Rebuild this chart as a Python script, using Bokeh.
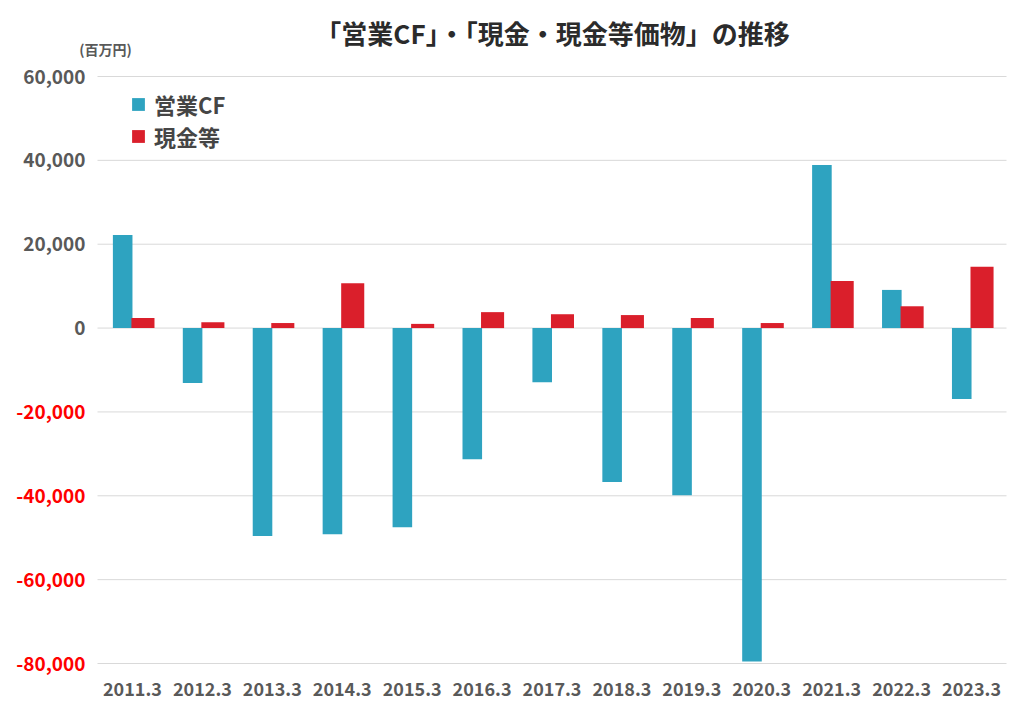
from bokeh.plotting import figure
from bokeh.models import ColumnDataSource, Legend, LegendItem, Range1d
from bokeh.core.properties import value
from bokeh.transform import dodge
from bokeh.embed import file_html
from bokeh.resources import INLINE

years = ["2011.3", "2012.3", "2013.3", "2014.3", "2015.3", "2016.3", "2017.3",
         "2018.3", "2019.3", "2020.3", "2021.3", "2022.3", "2023.3"]
operating_cf = [22200, -13100, -49600, -49200, -47500, -31300, -12900,
                -36700, -39900, -79500, 38900, 9100, -16900]
cash_eq = [2400, 1400, 1200, 10700, 1000, 3800, 3300,
           3100, 2400, 1200, 11200, 5200, 14600]
y_ticks = [-80000, -60000, -40000, -20000, 0, 20000, 40000, 60000]

FONT = "Noto Sans CJK JP"
GRAY = "#595959"
W, H = 1024, 709

# plot area in pixels: left 97, right 1006, top 76 (60,000), bottom 663 (-80,000)
n = len(years)
px_per_x = (1006 - 97) / n
px_per_y = (663 - 76) / (y_ticks[-1] - y_ticks[0])
x0 = -0.5 - 97 / px_per_x
x1 = x0 + W / px_per_x
ytop = y_ticks[-1] + 76 / px_per_y
ybot = ytop - H / px_per_y


def px_x(px):
    return x0 + px / px_per_x


def px_y(py):
    return ytop - py / px_per_y


idx = list(range(n))
src = ColumnDataSource(dict(i=idx, year=years, cf=operating_cf, cash=cash_eq))

p = figure(x_range=Range1d(x0, x1), y_range=Range1d(ybot, ytop),
           width=W, height=H, output_backend="svg", toolbar_location=None,
           min_border=0)
p.outline_line_color = None
p.axis.visible = False
p.grid.visible = False

# horizontal gridlines
p.segment(x0=-0.5, x1=n - 0.5, y0=y_ticks, y1=y_ticks,
          line_color="#d9d9d9", line_width=1)

r1 = p.vbar(x=dodge("i", -0.14), top="cf", width=0.28,
            source=src, fill_color="#2EA3C0", line_color=None)
r2 = p.vbar(x=dodge("i", 0.15), top="cash", width=0.33,
            source=src, fill_color="#DA1F2B", line_color=None)

# y tick labels
tick_src = ColumnDataSource(dict(
    y=y_ticks, t=[f"{v:,}" for v in y_ticks],
    c=["#FF0000" if v < 0 else GRAY for v in y_ticks]))
p.text(x=px_x(85), y="y", text="t", text_color="c", source=tick_src,
       text_align="right", text_baseline="middle",
       text_font=value(FONT), text_font_size="19px", text_font_style="bold")

# x tick labels
p.text(x="i", y=px_y(688), text="year", source=src,
       text_align="center", text_baseline="middle", text_color=GRAY,
       text_font=value(FONT), text_font_size="18px", text_font_style="bold")

# title and unit
p.text(x=[px_x(552)], y=[px_y(32)], text=["「営業CF」・「現金・現金等価物」の推移"],
       text_align="center", text_baseline="middle", text_color="#2b2b2b",
       text_font=value(FONT), text_font_size="26px", text_font_style="bold")
p.text(x=[px_x(105)], y=[px_y(48)], text=["(百万円)"],
       text_align="center", text_baseline="middle", text_color=GRAY,
       text_font=value(FONT), text_font_size="14px", text_font_style="bold")

legend = Legend(items=[LegendItem(label="営業CF", renderers=[r1]),
                       LegendItem(label="現金等", renderers=[r2])],
                location=(130, 557), orientation="vertical",
                margin=0, padding=0, spacing=0,
                glyph_width=16, glyph_height=16, label_height=24,
                label_standoff=8, border_line_color=None,
                background_fill_alpha=0,
                label_text_font=FONT, label_text_font_size="22px",
                label_text_font_style="bold", label_text_color="#454545")
p.add_layout(legend)

open("out.html", "w").write(file_html(p, INLINE))
